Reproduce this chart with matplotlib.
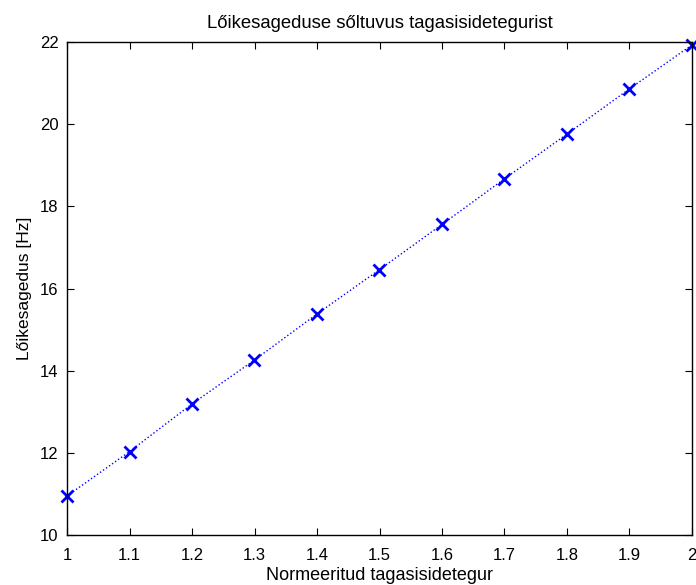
import numpy as np
import matplotlib.pyplot as plt

# tagasisidetegur ja lõikesagedus
tegur = [1.0, 1.1, 1.2, 1.3, 1.4, 1.5, 1.6, 1.7, 1.8, 1.9, 2.0]
sagedus = [10.95, 12.03, 13.19, 14.26, 15.38, 16.46, 17.56, 18.67, 19.76, 20.86, 21.93]

plt.rcParams['font.family'] = ['Liberation Sans', 'DejaVu Sans']

fig = plt.figure(figsize=(6.96, 5.85), dpi=100)
ax = fig.add_axes([67 / 696, 50 / 585, 625 / 696, 493 / 585])

ax.plot(tegur, sagedus, color='b', linestyle=':', linewidth=1)
ax.plot(tegur, sagedus, 'bx', markersize=8, markeredgewidth=2, clip_on=False)

ax.set_xlim(1, 2)
ax.set_ylim(10, 22)
ax.set_xticks(np.arange(1, 2.01, 0.1))
ax.set_xticklabels(['1', '1.1', '1.2', '1.3', '1.4', '1.5', '1.6', '1.7', '1.8', '1.9', '2'])
ax.set_yticks(np.arange(10, 23, 2))
ax.tick_params(direction='in', top=True, right=True, length=5, labelsize=12)
ax.tick_params(axis='x', pad=9)
ax.tick_params(axis='y', pad=6)
for s in ax.spines.values():
    s.set_linewidth(1)

ax.set_title('Lőikesageduse sőltuvus tagasisidetegurist', fontsize=13.3, pad=10)
ax.set_xlabel('Normeeritud tagasisidetegur', fontsize=13, labelpad=3)
ax.set_ylabel('Lőikesagedus [Hz]', fontsize=12.5, labelpad=6)

fig.savefig('out.png', dpi=100)
